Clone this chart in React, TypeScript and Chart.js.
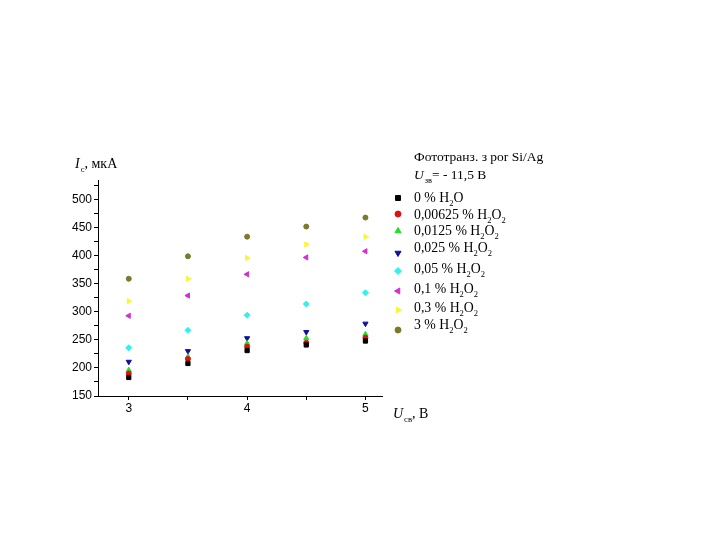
import React, { useEffect, useRef } from 'react';
import { Chart, registerables } from 'chart.js';
import { drawPoint } from 'chart.js/helpers';
Chart.register(...registerables);

const xValues = [3, 3.5, 4, 4.5, 5];
const s0 = [183, 208, 231, 241, 248];
const s1 = [190, 216, 238, 245, 254];
const s2 = [196, 220, 244, 253, 260];
const s3 = [211, 230, 253, 264, 279];
const s4 = [236, 267, 294, 314, 334];
const s5 = [293, 329, 367, 397, 408];
const s6 = [319, 359, 396, 420, 434];
const s7 = [359, 399, 434, 452, 468];
const seriesValues = [s0, s1, s2, s3, s4, s5, s6, s7];
const xTickLabels = [3, 4, 5];
const yTickLabels = [150, 200, 250, 300, 350, 400, 450, 500];

// legend labels: [text, isSubscript]
const seriesLabels: [string, boolean][][] = [
  [['0 % H', false], ['2', true], ['O', false]],
  [['0,00625 % H', false], ['2', true], ['O', false], ['2', true]],
  [['0,0125 % H', false], ['2', true], ['O', false], ['2', true]],
  [['0,025 % H', false], ['2', true], ['O', false], ['2', true]],
  [['0,05 % H', false], ['2', true], ['O', false], ['2', true]],
  [['0,1 % H', false], ['2', true], ['O', false], ['2', true]],
  [['0,3 % H', false], ['2', true], ['O', false], ['2', true]],
  [['3 % H', false], ['2', true], ['O', false], ['2', true]],
];
const titleLine1 = 'Фототранз. з por Si/Ag';
const titleLine2: [string, boolean][] = [['U', false], ['зв', true], ['= - 11,5 В', false]];
const yTitle: [string, boolean][] = [['I', false], ['с', true], [', мкА', false]];
const xTitle: [string, boolean][] = [['U', false], ['св', true], [', В', false]];

const colors = ['#000000', '#e01010', '#22e022', '#10109a', '#33f0f0', '#d030d0', '#f8f830', '#7a7a28'];
const styles = ['rect', 'circle', 'triangle', 'triangle', 'rectRot', 'triangle', 'triangle', 'circle'];
const rotations = [0, 0, 0, 180, 0, 270, 90, 0];
const radii = [3, 2.5, 3, 3, 3, 3, 3, 2.5];

const SERIF = '"Liberation Serif", "Times New Roman", serif';

function drawRich(ctx: CanvasRenderingContext2D, parts: [string, boolean][], x: number, y: number, size: number, italicFirst: boolean) {
  let cx = x;
  parts.forEach(([t, sub], i) => {
    const s = sub ? size * 0.62 : size;
    const italic = italicFirst && i === 0 ? 'italic ' : '';
    ctx.font = `${italic}${s}px ${SERIF}`;
    ctx.fillText(t, cx, sub ? y + size * 0.3 : y);
    cx += ctx.measureText(t).width + (italic ? 1 : 0);
  });
}

const textPlugin = {
  id: 'textPlugin',
  afterDraw(chart: any) {
    const ctx = chart.ctx as CanvasRenderingContext2D;
    ctx.save();
    ctx.fillStyle = '#000';
    ctx.textBaseline = 'alphabetic';
    ctx.textAlign = 'left';
    drawRich(ctx, yTitle, 75, 168, 14, true);
    drawRich(ctx, xTitle, 393, 418, 14, true);
    ctx.font = `13.5px ${SERIF}`;
    ctx.fillText(titleLine1, 414, 161);
    drawRich(ctx, titleLine2, 414, 179, 13.5, true);
    const textY = [202, 219, 235, 252, 273, 293, 312, 329];
    const markY = [198, 214, 231, 253, 271, 291, 310, 330];
    seriesLabels.forEach((parts, i) => {
      drawRich(ctx, parts, 414, textY[i], 13.8, false);
      ctx.fillStyle = colors[i];
      ctx.strokeStyle = colors[i];
      ctx.lineWidth = 1;
      drawPoint(ctx, { pointStyle: styles[i] as any, rotation: rotations[i], radius: radii[i] + 0.5, borderWidth: 1 }, 398, markY[i]);
      ctx.fillStyle = '#000';
    });
    ctx.restore();
  },
};

export default function App() {
  const ref = useRef<HTMLCanvasElement>(null);
  useEffect(() => {
    if (!ref.current) return;
    const chart = new Chart(ref.current, {
      type: 'scatter',
      data: {
        datasets: seriesValues.map((vals, i) => ({
          label: 's' + i,
          data: vals.map((v, j) => ({ x: xValues[j], y: v })),
          backgroundColor: colors[i],
          borderColor: colors[i],
          pointStyle: styles[i] as any,
          rotation: rotations[i],
          pointRadius: radii[i],
          borderWidth: 1,
        })),
      },
      options: {
        animation: false,
        responsive: false,
        events: [],
        layout: { padding: { left: 0, right: 338, top: 180, bottom: 114 } },
        plugins: { legend: { display: false }, tooltip: { enabled: false } },
        scales: {
          x: {
            type: 'linear',
            min: 2.74,
            max: 5.14,
            afterFit: (s: any) => { s.height = 30; },
            afterBuildTicks: (s: any) => { s.ticks = [3, 3.5, 4, 4.5, 5].map((v) => ({ value: v })); },
            ticks: {
              color: '#000',
              font: { family: '"Liberation Sans", Arial, sans-serif', size: 12 },
              padding: 1,
              autoSkip: false,
              maxRotation: 0,
              callback: (v: any) => (xTickLabels.includes(Number(v)) ? String(v) : ''),
            },
            grid: { drawOnChartArea: false, drawTicks: true, tickLength: 4, color: '#000' },
            border: { display: true, color: '#000', width: 1 },
          },
          y: {
            type: 'linear',
            min: 150,
            max: 535,
            afterFit: (s: any) => { s.width = 98; },
            afterBuildTicks: (s: any) => {
              const t = [];
              for (let v = 150; v <= 525; v += 25) t.push({ value: v });
              s.ticks = t;
            },
            ticks: {
              color: '#000',
              font: { family: '"Liberation Sans", Arial, sans-serif', size: 12 },
              padding: 2,
              autoSkip: false,
              callback: (v: any) => (yTickLabels.includes(Number(v)) ? String(v) : ''),
            },
            grid: { drawOnChartArea: false, drawTicks: true, tickLength: 4, color: '#000' },
            border: { display: true, color: '#000', width: 1 },
          },
        },
      },
      plugins: [textPlugin],
    });
    return () => chart.destroy();
  }, []);
  return (
    <div style={{ position: 'fixed', left: 0, top: 0, width: 720, height: 540, background: '#fff' }}>
      <canvas ref={ref} width={720} height={540} style={{ width: 720, height: 540 }} />
    </div>
  );
}
